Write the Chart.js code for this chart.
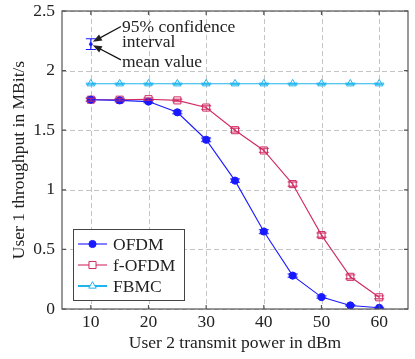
<!DOCTYPE html>
<html>
<head>
<meta charset="utf-8">
<script src="https://cdn.jsdelivr.net/npm/chart.js@4.4.1/dist/chart.umd.min.js"></script>
<style>
  html, body { margin: 0; padding: 0; background: #fff; }
  #wrap { width: 415px; height: 359px; position: relative; }
</style>
</head>
<body>
<div id="wrap"><canvas id="chart"></canvas></div>
<script>
// power values (x) and series
const power   = [10, 15, 20, 25, 30, 35, 40, 45, 50, 55, 60];
const ofdm    = [1.756, 1.75, 1.74, 1.65, 1.42, 1.077, 0.65, 0.28, 0.10, 0.03, 0.01];
const ofdmErr = [0.012, 0.01, 0.01, 0.012, 0.015, 0.015, 0.016, 0.014, 0.01, 0.006, 0.004];
const fofdm    = [1.756, 1.756, 1.76, 1.75, 1.69, 1.50, 1.33, 1.048, 0.62, 0.27, 0.098];
const fofdmErr = [0.012, 0.01, 0.01, 0.01, 0.015, 0.016, 0.016, 0.018, 0.018, 0.016, 0.012];
const fbmc    = [1.89, 1.89, 1.89, 1.89, 1.89, 1.89, 1.89, 1.89, 1.89, 1.89, 1.89];
const fbmcErr = [0.004, 0.004, 0.004, 0.004, 0.004, 0.004, 0.004, 0.004, 0.004, 0.004, 0.004];
const xTicks = [10, 20, 30, 40, 50, 60];
const yTicks = [0, 0.5, 1, 1.5, 2, 2.5];
// sample error bar used by the annotation
const sampleX = 10, sampleMean = 2.222, sampleErr = 0.045;

const FONT = '"Liberation Serif", "DejaVu Serif", serif';
const FS = 17.5;
const TXT = '#222';

const series = [
  {label:'OFDM',   data:ofdm,  err:ofdmErr,  color:'#1a1aff', style:'circle',   fill:true,  r:3.6},
  {label:'f-OFDM', data:fofdm, err:fofdmErr, color:'#d02a62', style:'rect',     fill:false, r:5},
  {label:'FBMC',   data:fbmc,  err:fbmcErr,  color:'#1fb4ee', style:'triangle', fill:false, r:4.3}
];

// dashed grid, drawn from the scales' tick positions
const grid = {
  id:'dashGrid',
  beforeDatasetsDraw(chart) {
    const {ctx, chartArea:a, scales:{x, y}} = chart;
    ctx.save();
    ctx.strokeStyle = '#c4c4c4'; ctx.lineWidth = 1; ctx.setLineDash([5, 3]);
    ctx.beginPath();
    xTicks.forEach(v => { const p = Math.round(x.getPixelForValue(v)) + 0.5;
      ctx.moveTo(p, a.top); ctx.lineTo(p, a.bottom); });
    yTicks.forEach(v => { const p = Math.round(y.getPixelForValue(v)) + 0.5;
      ctx.moveTo(a.left, p); ctx.lineTo(a.right, p); });
    ctx.stroke();
    ctx.restore();
  }
};

const errorBars = {
  id:'errorBars',
  afterDatasetsDraw(chart) {
    const {ctx, scales:{x, y}} = chart;
    ctx.save();
    series.forEach(s => {
      ctx.strokeStyle = s.color;
      ctx.globalAlpha = 0.75;
      ctx.lineWidth = 1.4;
      s.data.forEach((v, i) => {
        const px = x.getPixelForValue(power[i]);
        const lo = y.getPixelForValue(v - s.err[i]);
        const hi = y.getPixelForValue(v + s.err[i]);
        ctx.beginPath();
        ctx.moveTo(px, lo); ctx.lineTo(px, hi);
        ctx.moveTo(px - 5, lo); ctx.lineTo(px + 5, lo);
        ctx.moveTo(px - 5, hi); ctx.lineTo(px + 5, hi);
        ctx.stroke();
      });
    });
    ctx.restore();
  }
};

function arrow(ctx, x1, y1, x2, y2) {
  const a = Math.atan2(y2 - y1, x2 - x1), L = 9, W = 3.5;
  ctx.beginPath(); ctx.moveTo(x1, y1); ctx.lineTo(x2 - Math.cos(a) * 4, y2 - Math.sin(a) * 4); ctx.stroke();
  ctx.beginPath();
  ctx.moveTo(x2, y2);
  ctx.lineTo(x2 - L * Math.cos(a) + W * Math.sin(a), y2 - L * Math.sin(a) - W * Math.cos(a));
  ctx.lineTo(x2 - L * Math.cos(a) - W * Math.sin(a), y2 - L * Math.sin(a) + W * Math.cos(a));
  ctx.closePath(); ctx.fill();
}

const extras = {
  id:'extras',
  afterDraw(chart) {
    const {ctx, chartArea:a, scales:{x, y}} = chart;
    ctx.save();
    // box
    ctx.strokeStyle = '#555'; ctx.lineWidth = 1.2;
    ctx.strokeRect(a.left, a.top, a.right - a.left, a.bottom - a.top);
    // inner tick marks
    ctx.beginPath();
    xTicks.forEach(v => { const p = x.getPixelForValue(v);
      ctx.moveTo(p, a.bottom); ctx.lineTo(p, a.bottom - 4);
      ctx.moveTo(p, a.top); ctx.lineTo(p, a.top + 4); });
    yTicks.forEach(v => { const p = y.getPixelForValue(v);
      ctx.moveTo(a.left, p); ctx.lineTo(a.left + 4, p);
      ctx.moveTo(a.right, p); ctx.lineTo(a.right - 4, p); });
    ctx.stroke();

    // annotation: sample error bar
    const sx = x.getPixelForValue(sampleX);
    const sm = y.getPixelForValue(sampleMean);
    const slo = y.getPixelForValue(sampleMean - sampleErr);
    const shi = y.getPixelForValue(sampleMean + sampleErr);
    ctx.strokeStyle = '#1a1aff'; ctx.lineWidth = 1.2;
    ctx.beginPath();
    ctx.moveTo(sx, slo); ctx.lineTo(sx, shi);
    ctx.moveTo(sx - 5, slo); ctx.lineTo(sx + 5, slo);
    ctx.moveTo(sx - 5, shi); ctx.lineTo(sx + 5, shi);
    ctx.stroke();
    ctx.fillStyle = '#1a1aff';
    ctx.beginPath(); ctx.arc(sx, sm, 1.8, 0, Math.PI * 2); ctx.fill();

    ctx.fillStyle = TXT; ctx.strokeStyle = '#111'; ctx.lineWidth = 1.2;
    ctx.font = FS + 'px ' + FONT; ctx.textBaseline = 'middle'; ctx.textAlign = 'left';
    const tx = x.getPixelForValue(15.4);
    ctx.fillText('95% confidence', tx, y.getPixelForValue(2.36));
    ctx.fillText('interval', tx, y.getPixelForValue(2.235));
    ctx.fillText('mean value', tx, y.getPixelForValue(2.07));
    arrow(ctx, tx - 1, y.getPixelForValue(2.37), sx + 2, shi + 3);
    arrow(ctx, tx - 1, y.getPixelForValue(2.09), sx + 2, sm + 1);

    // legend
    const lx = a.left + 11, ly = a.bottom - 80, lw = 111, lh = 71;
    ctx.fillStyle = '#fff'; ctx.fillRect(lx, ly, lw, lh);
    ctx.strokeStyle = '#444'; ctx.lineWidth = 1;
    ctx.strokeRect(lx + 0.5, ly + 0.5, lw, lh);
    series.forEach((s, i) => {
      const ry = ly + 15 + i * 21;
      ctx.strokeStyle = s.color; ctx.lineWidth = s.label === 'FBMC' ? 2 : 1.1;
      ctx.beginPath(); ctx.moveTo(lx + 5, ry); ctx.lineTo(lx + 34, ry); ctx.stroke();
      ctx.lineWidth = 1;
      ctx.fillStyle = s.fill ? s.color : '#fff';
      ctx.strokeStyle = s.color;
      Chart.helpers.drawPoint(ctx, {pointStyle:s.style, radius:s.r, borderWidth:1}, lx + 19.5, ry);
      ctx.fillStyle = TXT;
      ctx.fillText(s.label, lx + 40, ry + 1);
    });
    ctx.restore();
  }
};

new Chart(document.getElementById('chart'), {
  type:'line',
  data:{
    labels: power,
    datasets: series.map(s => ({
      label: s.label,
      data: s.data.map((v, i) => ({x: power[i], y: v})),
      borderColor: s.color,
      backgroundColor: s.fill ? s.color : 'rgba(255,255,255,0)',
      borderWidth: 1.1,
      pointStyle: s.style,
      pointRadius: s.r,
      pointBorderWidth: 1,
      pointBorderColor: s.color,
      pointBackgroundColor: s.fill ? s.color : 'rgba(255,255,255,0)',
      tension: 0
    }))
  },
  options:{
    responsive:true, maintainAspectRatio:false, animation:false,
    layout:{padding:{top:11, right:7, left:0, bottom:0}},
    plugins:{legend:{display:false}, tooltip:{enabled:false}},
    scales:{
      x:{
        type:'linear', min:5, max:65,
        afterBuildTicks: sc => { sc.ticks = xTicks.map(v => ({value:v})); },
        afterFit: sc => { sc.height = 50; sc.paddingLeft = 0; sc.paddingRight = 0; },
        grid:{display:false, drawTicks:false},
        border:{display:false},
        ticks:{color:TXT, font:{family:FONT, size:FS}, padding:3, maxRotation:0},
        title:{display:true, text:'User 2 transmit power in dBm', color:TXT,
               font:{family:FONT, size:FS}, padding:{top:2, bottom:5}}
      },
      y:{
        min:0, max:2.5,
        afterBuildTicks: sc => { sc.ticks = yTicks.map(v => ({value:v})); },
        afterFit: sc => { sc.width = 62; sc.paddingTop = 0; sc.paddingBottom = 0; },
        grid:{display:false, drawTicks:false},
        border:{display:false},
        ticks:{color:TXT, font:{family:FONT, size:FS}, padding:7, callback: v => String(v)},
        title:{display:true, text:'User 1 throughput in MBit/s', color:TXT,
               font:{family:FONT, size:FS}, padding:{top:9, bottom:0}}
      }
    }
  },
  plugins:[grid, errorBars, extras]
});
</script>
</body>
</html>
